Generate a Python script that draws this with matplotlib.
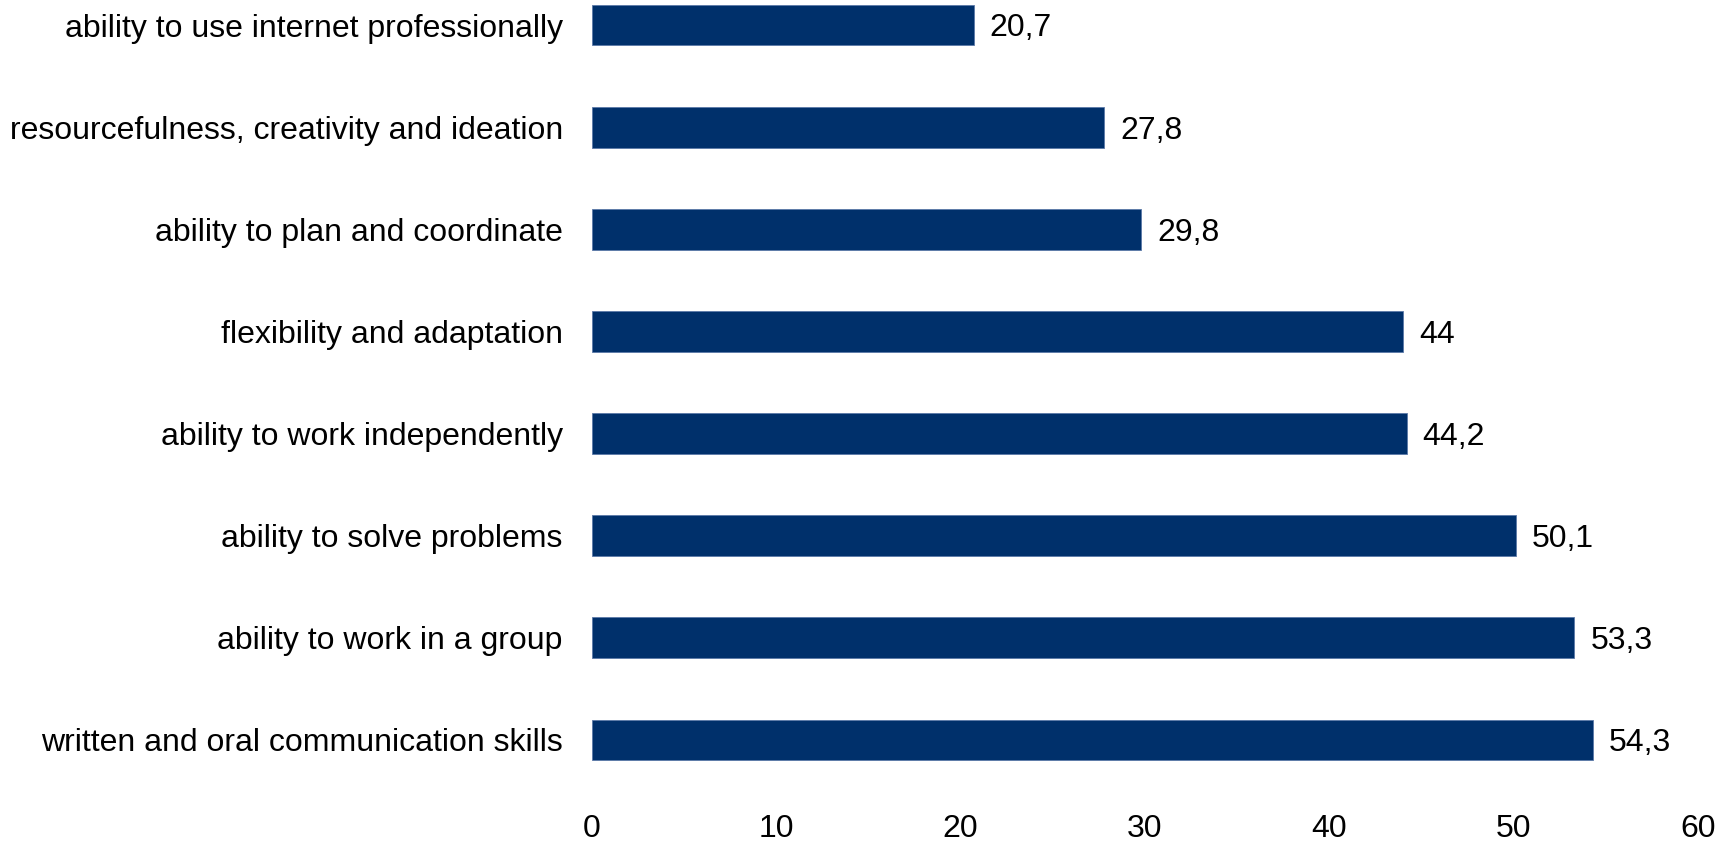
import matplotlib.pyplot as plt

skills = ['written and oral communication skills', 'ability to work in a group',
          'ability to solve problems', 'ability to work independently',
          'flexibility and adaptation', 'ability to plan and coordinate',
          'resourcefulness, creativity and ideation', 'ability to use internet professionally']
values = [54.3, 53.3, 50.1, 44.2, 44, 29.8, 27.8, 20.7]
xticks = [0, 10, 20, 30, 40, 50, 60]

plt.rcParams['font.family'] = ['Liberation Sans', 'DejaVu Sans']

fig = plt.figure(figsize=(17.32, 8.43), dpi=100)
ax = fig.add_axes([592/1732, 1-790/843, 1106/1732, 790/843])

pos = list(range(len(skills)))
ax.barh(pos, values, height=0.4, color='#00306B', edgecolor='#5a78a8', linewidth=0.6)

for p, v in zip(pos, values):
    txt = ('%g' % v).replace('.', ',')
    ax.annotate(txt, (v, p), xytext=(11.5, -2.5), textcoords='offset points',
                va='center', ha='left', fontsize=23)

ax.set_xlim(0, 60)
ax.set_ylim(-0.49, 7.245)
ax.set_xticks(xticks)
ax.set_yticks(pos)
ax.set_yticklabels(skills)
ax.tick_params(axis='x', length=0, pad=17, labelsize=23)
ax.tick_params(axis='y', length=0, pad=21, labelsize=23)
for s in ax.spines.values():
    s.set_visible(False)

plt.savefig('out.png')
